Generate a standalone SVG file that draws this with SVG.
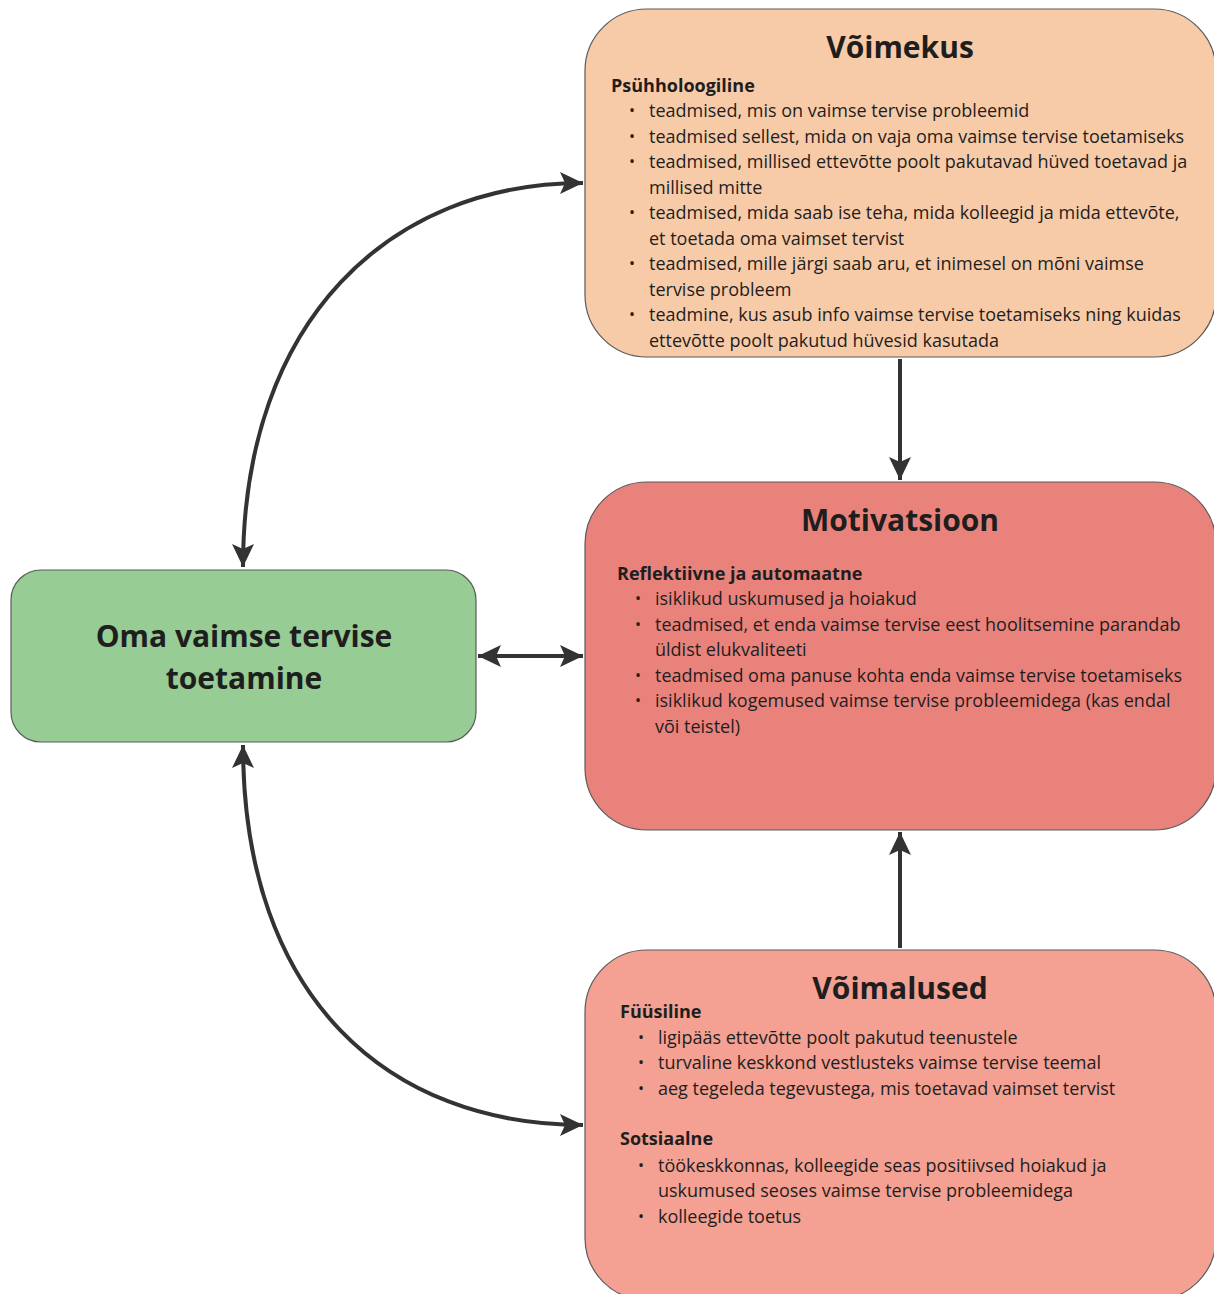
<svg xmlns="http://www.w3.org/2000/svg" width="1214" height="1294" viewBox="0 0 1214 1294">
<style>
.box{stroke:#5a5a5a;stroke-width:1.2}
.t{font-family:"Open Sans","Noto Sans",sans-serif;fill:#1e1e1e}
.title{font-size:30px;font-weight:bold;text-anchor:middle}
.h{font-size:18px;font-weight:bold}
.b{font-size:18px}
.d{font-size:16px}
.c{fill:none;stroke:#333;stroke-width:4}
</style>
<defs>
<marker id="ah" markerUnits="userSpaceOnUse" markerWidth="24" markerHeight="24" viewBox="0 0 24 24" refX="23" refY="12" orient="auto-start-reverse">
<path d="M0,1 L23,12 L0,23 L5,12 Z" fill="#333"/>
</marker>
</defs>
<rect width="1214" height="1294" fill="#fff"/>
<g id="connectors">
<path class="c" d="M243,567 C243,320 390,183 583,183" marker-start="url(#ah)" marker-end="url(#ah)"/>
<path class="c" d="M243,745 C243,1000 390,1125 583,1125" marker-start="url(#ah)" marker-end="url(#ah)"/>
<path class="c" d="M478,656 L583,656" marker-start="url(#ah)" marker-end="url(#ah)"/>
<path class="c" d="M900,359 L900,480" marker-end="url(#ah)"/>
<path class="c" d="M900,948 L900,832" marker-end="url(#ah)"/>
</g>
<g id="voimekus">
<rect class="box" x="585" y="9" width="631" height="348" rx="62" fill="#f8cba8"/>
<text class="t title" x="900" y="58">Võimekus</text>
<text class="t h" x="611" y="92">Psühholoogiline</text>
<g class="t b">
<text class="d" x="629" y="116">•</text><text x="649" y="117">teadmised, mis on vaimse tervise probleemid</text>
<text class="d" x="629" y="142">•</text><text x="649" y="143">teadmised sellest, mida on vaja oma vaimse tervise toetamiseks</text>
<text class="d" x="629" y="167">•</text><text x="649" y="168">teadmised, millised ettevõtte poolt pakutavad hüved toetavad ja</text>
<text x="649" y="194">millised mitte</text>
<text class="d" x="629" y="218">•</text><text x="649" y="219">teadmised, mida saab ise teha, mida kolleegid ja mida ettevõte,</text>
<text x="649" y="245">et toetada oma vaimset tervist</text>
<text class="d" x="629" y="269">•</text><text x="649" y="270">teadmised, mille järgi saab aru, et inimesel on mõni vaimse</text>
<text x="649" y="296">tervise probleem</text>
<text class="d" x="629" y="320">•</text><text x="649" y="321">teadmine, kus asub info vaimse tervise toetamiseks ning kuidas</text>
<text x="649" y="347">ettevõtte poolt pakutud hüvesid kasutada</text>
</g>
</g>
<g id="motivatsioon">
<rect class="box" x="585" y="482" width="631" height="348" rx="62" fill="#ea827c"/>
<text class="t title" x="900" y="531">Motivatsioon</text>
<text class="t h" x="617" y="580">Reflektiivne ja automaatne</text>
<g class="t b">
<text class="d" x="635" y="604">•</text><text x="655" y="605">isiklikud uskumused ja hoiakud</text>
<text class="d" x="635" y="630">•</text><text x="655" y="631">teadmised, et enda vaimse tervise eest hoolitsemine parandab</text>
<text x="655" y="656">üldist elukvaliteeti</text>
<text class="d" x="635" y="681">•</text><text x="655" y="682">teadmised oma panuse kohta enda vaimse tervise toetamiseks</text>
<text class="d" x="635" y="706">•</text><text x="655" y="707">isiklikud kogemused vaimse tervise probleemidega (kas endal</text>
<text x="655" y="733">või teistel)</text>
</g>
</g>
<g id="voimalused">
<rect class="box" x="585" y="950" width="631" height="350" rx="62" fill="#f4a092"/>
<text class="t title" x="900" y="999">Võimalused</text>
<text class="t h" x="620" y="1018">Füüsiline</text>
<g class="t b">
<text class="d" x="638" y="1043">•</text><text x="658" y="1044">ligipääs ettevõtte poolt pakutud teenustele</text>
<text class="d" x="638" y="1068">•</text><text x="658" y="1069">turvaline keskkond vestlusteks vaimse tervise teemal</text>
<text class="d" x="638" y="1094">•</text><text x="658" y="1095">aeg tegeleda tegevustega, mis toetavad vaimset tervist</text>
</g>
<text class="t h" x="620" y="1145">Sotsiaalne</text>
<g class="t b">
<text class="d" x="638" y="1171">•</text><text x="658" y="1172">töökeskkonnas, kolleegide seas positiivsed hoiakud ja</text>
<text x="658" y="1197">uskumused seoses vaimse tervise probleemidega</text>
<text class="d" x="638" y="1222">•</text><text x="658" y="1223">kolleegide toetus</text>
</g>
</g>
<g id="toetamine">
<rect class="box" x="11" y="570" width="465" height="172" rx="30" fill="#97cc94"/>
<text class="t title" x="244" y="647">Oma vaimse tervise</text>
<text class="t title" x="244" y="689">toetamine</text>
</g>
</svg>
